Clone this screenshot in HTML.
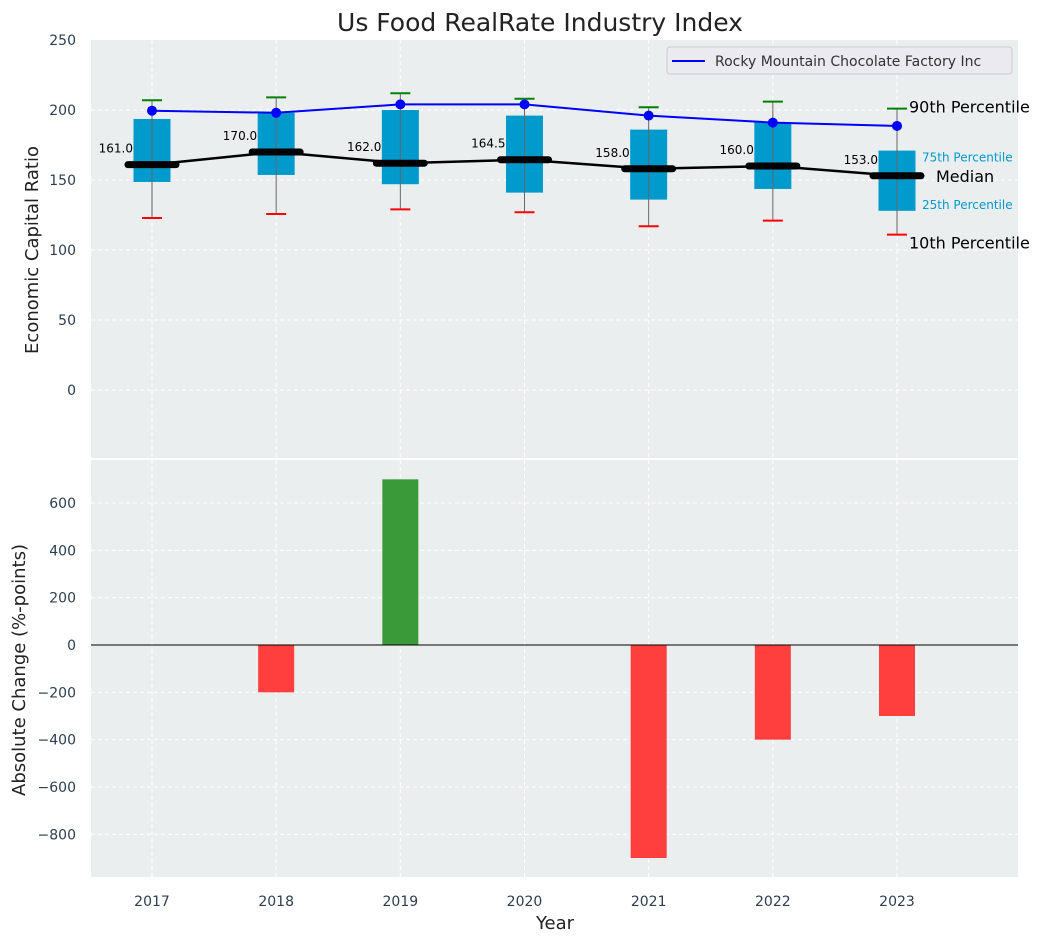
<!DOCTYPE html>
<html><head><meta charset="utf-8"><style>
body{margin:0;background:#fff;}
svg text{font-family:"DejaVu Sans","Liberation Sans",sans-serif;}
</style></head><body>
<svg id="chart" width="1044" height="942" xmlns="http://www.w3.org/2000/svg">
<rect width="1044" height="942" fill="#fff"/>
<text x="540" y="31" text-anchor="middle" font-size="25" fill="#222">Us Food RealRate Industry Index</text>
<rect x="91" y="40" width="927" height="418" fill="#eaeeef"/>
<rect x="91" y="460" width="927" height="417" fill="#eaeeef"/>
<g id="topg"></g><g id="botg"></g>
<text x="38" y="250" transform="rotate(-90 38 250)" text-anchor="middle" font-size="18" fill="#222">Economic Capital Ratio</text>
<text x="25" y="670" transform="rotate(-90 25 670)" text-anchor="middle" font-size="18" fill="#222">Absolute Change (%-points)</text>
<text x="555" y="929" text-anchor="middle" font-size="18" fill="#222">Year</text>
<g>
<rect x="667" y="47" width="345" height="27" rx="3" fill="#eaeaf0" stroke="#ccc"/>
<line x1="672" y1="61" x2="705" y2="61" stroke="#0000ff" stroke-width="2"/>
<text x="715" y="66" font-size="14" fill="#333">Rocky Mountain Chocolate Factory Inc</text>
</g>
</svg>
<script>
const years=["2017","2018","2019","2020","2021","2022","2023"];
const p90=[207,209,212,208,202,206,201];
const p75=[193.6,198,200,196,186,191,171];
const median=[161,170,162,164.5,158,160,153];
const p25=[148.6,153.6,147,141,136,143.6,128];
const p10=[122.9,125.7,129,127,117,121,111];
const company=[199.5,198,204,204,196,191,188.6];
const change=[0,-200,700,0,-900,-400,-300];
const topTicks=[0,50,100,150,200,250];
const botTicks=[-800,-600,-400,-200,0,200,400,600];

const NS="http://www.w3.org/2000/svg";
const X=i=>152+(897-152)/6*i;
const YT=v=>390-1.4*v;
const YB=v=>645-(142/600)*v;
function mk(p,tag,a,txt){const e=document.createElementNS(NS,tag);for(const k in a)e.setAttribute(k,a[k]);if(txt!==undefined)e.textContent=txt;p.appendChild(e);return e;}
const topG=document.getElementById('topg'),botG=document.getElementById('botg');

topTicks.forEach(t=>{
 const g=mk(topG,'g',{});
 
 
 if(t<250)mk(g,'line',{x1:91,x2:1018,y1:YT(t),y2:YT(t),stroke:'#fff','stroke-dasharray':'4,3','stroke-width':1});
 mk(g,'text',{x:76,y:YT(t)+5,'text-anchor':'end','font-size':14,fill:'#2c3e50'},t);
});
botTicks.forEach(t=>{
 const g=mk(botG,'g',{});
 
 
 mk(g,'line',{x1:91,x2:1018,y1:YB(t),y2:YB(t),stroke:'#fff','stroke-dasharray':'4,3','stroke-width':1});
 mk(g,'text',{x:76,y:YB(t)+5,'text-anchor':'end','font-size':14,fill:'#2c3e50'},t===0?'0':(t<0?'\u2212'+(-t):t));
});
years.forEach((y,i)=>{
 const g=mk(botG,'g',{});
 
 
 mk(topG,'line',{x1:X(i),x2:X(i),y1:40,y2:458,stroke:'#fff','stroke-dasharray':'4,3'});
 mk(g,'line',{x1:X(i),x2:X(i),y1:460,y2:877,stroke:'#fff','stroke-dasharray':'4,3'});
 mk(g,'text',{x:X(i),y:906,'text-anchor':'middle','font-size':14,fill:'#2c3e50'},y);
});

years.forEach((y,i)=>{
 const g=mk(topG,'g',{});
 
 
 mk(g,'rect',{x:X(i)-18.5,y:YT(p75[i]),width:37,height:YT(p25[i])-YT(p75[i]),fill:'#009acd'});
 mk(g,'line',{x1:X(i),x2:X(i),y1:YT(p90[i]),y2:YT(p10[i]),stroke:'#666','stroke-width':1});
 mk(g,'line',{x1:X(i)-10,x2:X(i)+10,y1:YT(p90[i]),y2:YT(p90[i]),stroke:'green','stroke-width':2});
 mk(g,'line',{x1:X(i)-10,x2:X(i)+10,y1:YT(p10[i]),y2:YT(p10[i]),stroke:'red','stroke-width':2});
});
const ml=mk(topG,'polyline',{points:median.map((v,i)=>X(i)+','+YT(v)).join(' '),fill:'none',stroke:'#000','stroke-width':2.5});


years.forEach((y,i)=>{
 const l=mk(topG,'line',{x1:X(i)-24,x2:X(i)+24,y1:YT(median[i]),y2:YT(median[i]),stroke:'#000','stroke-width':7,'stroke-linecap':'round'});
 
 
 const t=mk(topG,'text',{x:X(i)-19,y:YT(median[i])-12,'text-anchor':'end','font-size':12,fill:'#000'},median[i].toFixed(1));
 
 
});
const cl=mk(topG,'polyline',{points:company.map((v,i)=>X(i)+','+YT(v)).join(' '),fill:'none',stroke:'#0000ff','stroke-width':2});


company.forEach((v,i)=>{
 const c=mk(topG,'circle',{cx:X(i),cy:YT(v),r:5,fill:'#0000ff'});
 
 
});
const L=6,ax=X(L);
[["90th Percentile",ax+12,YT(p90[L])+4,16,'#000'],["75th Percentile",ax+25,YT(p75[L])+11,12,'#0099cc'],["Median",ax+39,YT(median[L])+6,16,'#000'],["25th Percentile",ax+25,YT(p25[L])-2,12,'#0099cc'],["10th Percentile",ax+12,YT(p10[L])+14,16,'#000']].forEach(a=>{
 const t=mk(topG,'text',{x:a[1],y:a[2],'font-size':a[3],fill:a[4]},a[0]);
 
 
});
change.forEach((v,i)=>{
 if(v===0)return;
 const r=mk(botG,'rect',{x:X(i)-18,y:Math.min(YB(v),YB(0)),width:36,height:Math.abs(YB(v)-YB(0)),fill:v>0?'#3a9a3a':'#ff3e3e'});
 
 
});
const zl=mk(botG,'line',{x1:91,x2:1018,y1:YB(0),y2:YB(0),stroke:'#000','stroke-width':1});


</script>
</body></html>
